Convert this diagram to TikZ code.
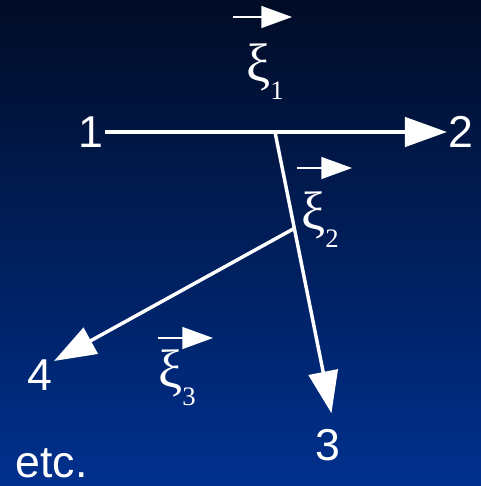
\documentclass[tikz,border=0pt]{standalone}
\usepackage{fontspec}
\setmainfont{Liberation Sans}
\newfontfamily\grkfont{Liberation Serif}
\usetikzlibrary{arrows.meta,calc}
\definecolor{fondoarriba}{RGB}{1,12,38}
\definecolor{fondoabajo}{RGB}{0,48,142}
\tikzset{
  num/.style={text=white,inner sep=1pt,font=\fontsize{33.5}{33.5}\selectfont},
  xi/.style={text=white,inner sep=0pt,anchor=base west},
  flujo/.style={white,line width=2.6pt,-{Triangle[length=31.5pt,width=22pt]}},
  vec/.style={white,line width=1pt,-{Triangle[length=23pt,width=16.5pt]}}
}
\newcommand{\xisub}[1]{{\fontsize{40.5}{40.5}\grkfont ξ}{\fontsize{20}{20}\grkfont\raisebox{-14pt}{#1}}}

\begin{document}
\begin{tikzpicture}[x=0.75pt,y=-0.75pt]
\shade[top color=fondoarriba,bottom color=fondoabajo] (0,0) rectangle (481,486);
% nudos
\node[num] (n1) at (91,132) {1};
\node[num] (n2) at (461,132) {2};
\node[num] (n3) at (328,445) {3};
\node[num] (n4) at (40,375) {4};
\node[num,anchor=base west] (etc) at (14,477) {etc.};
% ramas
\coordinate (j1) at (275,132);
\draw[flujo] (n1) -- (n2);
\draw[flujo,shorten >=11pt] (j1) -- (n3.70);
\coordinate (j2) at ($(j1)!0.326!(n3.70)$);
\draw[flujo] (j2) -- (n4.45);
% vectores
\node[xi] (x1) at (246,81) {\xisub{1}};
\node[xi] (x2) at (301,229) {\xisub{2}};
\node[xi] (x3) at (158,387) {\xisub{3}};
\draw[vec] (233,17) -- (292,17);
\draw[vec] (297,168) -- (352,168);
\draw[vec] (158,338) -- (213,338);
\end{tikzpicture}
\end{document}
